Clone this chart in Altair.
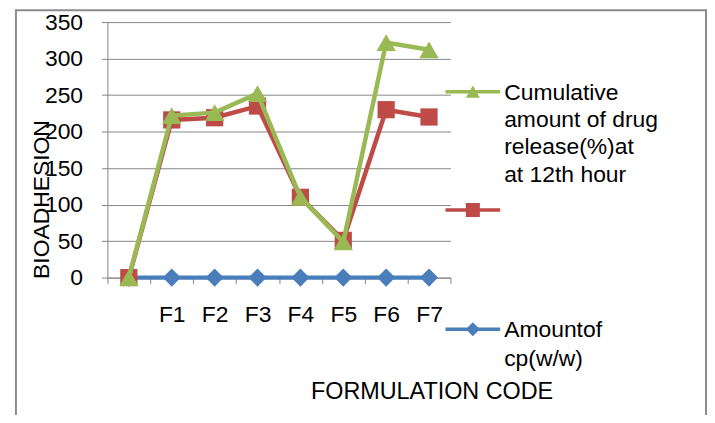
import altair as alt
import pandas as pd

categories = [" ", "F1", "F2", "F3", "F4", "F5", "F6", "F7"]
amount_cp = [0, 0, 0, 0, 0, 0, 0, 0]
bioadhesion = [0, 216, 219, 235, 110, 51, 230, 220]
cumulative = [0, 222, 226, 252, 110, 49, 322, 312]

series_names = ["Amountof cp(w/w)", "BIOADHESION", "Cumulative"]
series_colors = ["#4A7EBB", "#BE4B48", "#98B954"]
series_shapes = ["diamond", "square", "triangle-up"]
series_sizes = [330, 300, 380]

legend_labels = [
    ["Amountof", "cp(w/w)"],
    [""],
    ["Cumulative", "amount of drug", "release(%)at", "at 12th hour"],
]

FONT = "Liberation Sans"
W, H = 345, 257
PAD_L, PAD_T = 100, 13
SVG_W, SVG_H = 703, 407

rows = []
for name, vals in zip(series_names, [amount_cp, bioadhesion, cumulative]):
    for i, (c, v) in enumerate(zip(categories, vals)):
        rows.append({"cat": c, "value": v, "series": name, "order": i})
df = pd.DataFrame(rows)

xenc = alt.X(
    "cat:N",
    sort=categories,
    bandPosition=0.5,
    scale=alt.Scale(type="band", paddingInner=0, paddingOuter=0),
    axis=alt.Axis(
        title="FORMULATION CODE",
        titleFont=FONT,
        titleFontSize=23.5,
        titleFontWeight="normal",
        titleColor="#000000",
        titleX=326,
        titleY=115,
        titleBaseline="middle",
        titleAlign="center",
        labelFont=FONT,
        labelFontSize=23,
        labelColor="#000000",
        labelAngle=0,
        labelPadding=31,
        labelBaseline="middle",
        tickBand="extent",
        tickSize=6,
        tickColor="#868686",
        domainColor="#868686",
        domainWidth=1,
        grid=False,
    ),
)
yenc = alt.Y(
    "value:Q",
    scale=alt.Scale(domain=[0, 350], nice=False, zero=True),
    axis=alt.Axis(
        title="BIOADHESION",
        titleFont=FONT,
        titleFontSize=23,
        titleFontWeight="normal",
        titleColor="#000000",
        titleX=-66,
        titleY=178,
        titleAngle=-90,
        titleBaseline="middle",
        titleAlign="center",
        values=[0, 50, 100, 150, 200, 250, 300, 350],
        labelFont=FONT,
        labelFontSize=23,
        labelColor="#000000",
        labelPadding=19,
        tickSize=6,
        tickColor="#868686",
        domainColor="#868686",
        gridColor="#868686",
        gridWidth=1,
    ),
)

layers = []
for name, col, shp, sz in zip(series_names, series_colors, series_shapes, series_sizes):
    sub = df[df["series"] == name]
    base = alt.Chart(sub)
    line = base.mark_line(color=col, strokeWidth=4.5).encode(x=xenc, y=yenc, order="order:Q")
    pts = base.mark_point(shape=shp, size=sz, filled=True, color=col, opacity=1).encode(x=xenc, y=yenc)
    layers += [line, pts]

# manual legend (layout positions)
leg_y = [309, 189, 70]
leg_line_h = [29, 27, 27.5]
for col, shp, lab, ly, lh in zip(series_colors, series_shapes, legend_labels, leg_y, leg_line_h):
    layers.append(
        alt.Chart(pd.DataFrame({"a": [0]})).mark_rule(color=col, strokeWidth=3.5).encode(
            x=alt.value(340), x2=alt.value(395), y=alt.value(ly)
        )
    )
    layers.append(
        alt.Chart(pd.DataFrame({"a": [0]})).mark_point(shape=shp, size=200, filled=True, color=col, opacity=1).encode(
            x=alt.value(367.5), y=alt.value(ly)
        )
    )
    if lab != [""]:
        layers.append(
            alt.Chart(pd.DataFrame({"a": [0]})).mark_text(
                text=lab, align="left", baseline="alphabetic", font=FONT, fontSize=23,
                lineHeight=lh, color="#000000"
            ).encode(x=alt.value(399), y=alt.value(ly + 8))
        )

# outer border
border_rules = [
    dict(x=-92, x2=-92, y=-13, y2=420),
    dict(x=-92, x2=602, y=-12, y2=-12),
    dict(x=602, x2=602, y=-13, y2=420),
]
for b in border_rules:
    layers.append(
        alt.Chart(pd.DataFrame({"a": [0]})).mark_rule(color="#8C8C8C", strokeWidth=2).encode(
            x=alt.value(b["x"]), x2=alt.value(b["x2"]), y=alt.value(b["y"]), y2=alt.value(b["y2"])
        )
    )

chart = alt.layer(*layers).properties(
    width=W,
    height=H,
    autosize=alt.AutoSizeParams(type="none"),
    padding={"left": PAD_L, "top": PAD_T, "right": SVG_W - PAD_L - W, "bottom": SVG_H - PAD_T - H},
    background="#FFFFFF",
).configure_view(stroke=None)

chart.save("out.html", embed_options={"renderer": "svg", "actions": False})
